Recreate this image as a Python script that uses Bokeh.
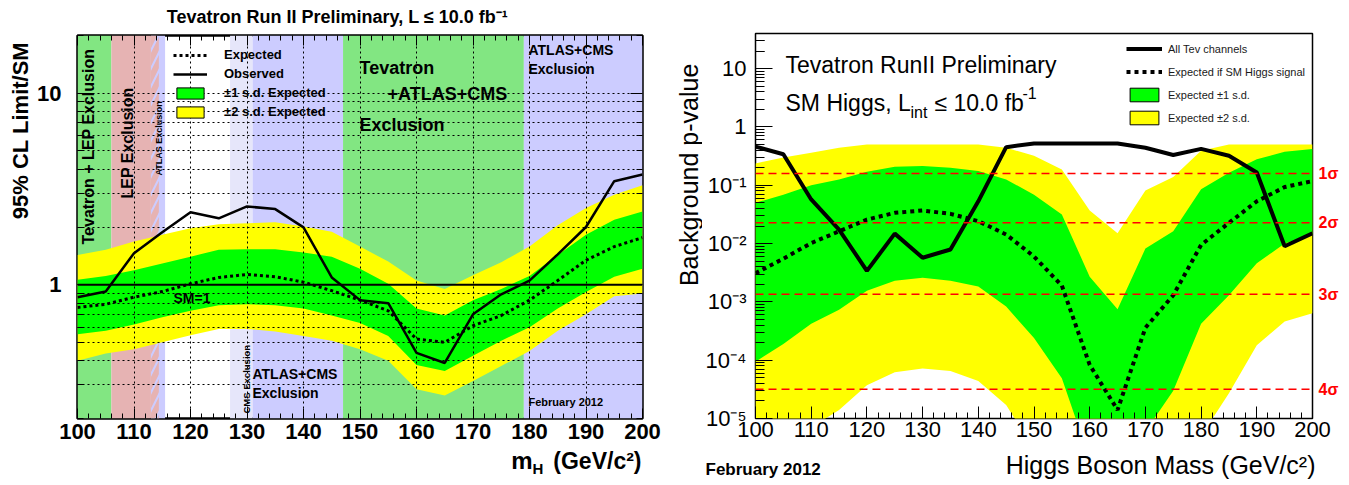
import math
from bokeh.plotting import figure
from bokeh.models import (Range1d, FixedTicker, Label, Span, Legend, LegendItem,
                          LinearAxis, LogAxis, CustomJSTickFormatter)
from bokeh.layouts import row, column
from bokeh.embed import file_html
from bokeh.resources import INLINE

FONT = "Liberation Sans"

# ---------------- data: left panel (95% CL limit / SM) ----------------
mass = [100, 105, 110, 115, 120, 125, 130, 135, 140, 145, 150,
        155, 160, 165, 170, 175, 180, 185, 190, 195, 200]
obs_limit = [0.86, 0.92, 1.46, 1.88, 2.39, 2.22, 2.56, 2.48, 1.99, 1.09, 0.83,
             0.80, 0.44, 0.39, 0.70, 0.89, 1.05, 1.44, 2.00, 3.47, 3.76]
exp_limit = [0.76, 0.79, 0.86, 0.92, 1.01, 1.09, 1.13, 1.10, 1.03, 0.93, 0.83,
             0.73, 0.52, 0.50, 0.61, 0.69, 0.83, 1.05, 1.34, 1.58, 1.76]
limit_p1 = [1.06, 1.11, 1.19, 1.29, 1.40, 1.52, 1.53, 1.53, 1.47, 1.40, 1.21,
            1.01, 0.75, 0.69, 0.83, 0.95, 1.11, 1.43, 1.82, 2.18, 2.41]
limit_m1 = [0.55, 0.575, 0.62, 0.676, 0.73, 0.78, 0.79, 0.78, 0.75, 0.69, 0.63,
            0.54, 0.38, 0.354, 0.425, 0.51, 0.60, 0.75, 0.915, 1.10, 1.21]
limit_p2 = [1.43, 1.52, 1.68, 1.82, 1.97, 2.07, 2.09, 2.12, 2.01, 1.89, 1.58,
            1.32, 1.05, 0.95, 1.12, 1.31, 1.58, 2.04, 2.51, 2.95, 3.30]
limit_m2 = [0.40, 0.437, 0.46, 0.50, 0.545, 0.587, 0.587, 0.57, 0.54, 0.51, 0.46,
            0.40, 0.284, 0.264, 0.314, 0.376, 0.45, 0.575, 0.70, 0.87, 0.90]
sm_value = [1.0]

# excluded mass regions (GeV)
excl_lo = [100, 106, 113, 127, 131, 147, 179]
excl_hi = [106, 113, 115.5, 131, 147, 179, 200]
lep_hatch_lo = [113]
lep_hatch_hi = [114.4]

# ---------------- data: right panel (background p-value) ----------------
pval_obs = [0.46, 0.34, 0.057, 0.0174, 0.0034, 0.0148, 0.0057, 0.0079, 0.053, 0.45, 0.52,
            0.52, 0.52, 0.52, 0.44, 0.33, 0.42, 0.32, 0.165, 0.009, 0.015]
pval_exp = [0.0031, 0.0055, 0.0102, 0.0162, 0.0258, 0.0336, 0.0369, 0.0323, 0.0242, 0.0143, 0.006,
            0.0019, 8.3e-5, 1.4e-5, 3.6e-4, 1.3e-3, 0.0095, 0.0226, 0.053, 0.093, 0.118]
pval_p2 = [0.237, 0.30, 0.36, 0.44, 0.50, 0.50, 0.50, 0.50, 0.50, 0.44, 0.32,
           0.187, 0.037, 0.0150, 0.081, 0.138, 0.39, 0.50, 0.50, 0.50, 0.50]
pval_p1 = [0.050, 0.069, 0.100, 0.126, 0.170, 0.207, 0.213, 0.200, 0.175, 0.126, 0.069,
           0.0315, 0.0027, 7.5e-4, 0.0082, 0.0162, 0.085, 0.164, 0.278, 0.377, 0.42]
pval_m1 = [9.4e-5, 1.9e-4, 4.2e-4, 7.3e-4, 1.55e-3, 2.3e-3, 2.6e-3, 2.3e-3, 1.84e-3, 8.3e-4, 2.4e-4,
           4.9e-5, 2e-6, 1e-7, 6e-6, 3e-5, 4.2e-4, 1.3e-3, 4.6e-3, 0.010, 0.0143]
pval_m2 = [1e-6, 3e-6, 7e-6, 1.4e-5, 3.7e-5, 6.2e-5, 7.2e-5, 6.5e-5, 4.4e-5, 1.7e-5, 3e-6,
           1e-7, 1e-8, 1e-8, 1e-8, 1e-8, 5e-6, 2.7e-5, 1.8e-4, 4.6e-4, 6.4e-4]
sigma_p = [0.1587, 0.02275, 0.00135, 3.17e-5]
sigma_labels = ["1σ", "2σ", "3σ", "4σ"]

# ticks
x_major = list(range(100, 201, 10))
x_minor = list(range(100, 201, 2))
y1_major = [1, 10]
y1_minor = [k / 10 for k in range(2, 10)] + list(range(2, 10)) + [20]
y2_major = [10.0 ** e for e in range(-5, 2)]
y2_minor = [k * 10.0 ** e for e in range(-5, 2) for k in range(2, 10)] + [20, 30, 40]

# ---------------- styles ----------------
EXCL_COLORS = ["#82e682", "#e6b3b3", "#ccccff", "#e6e6fa", "#ccccff", "#82e682", "#ccccff"]
GREEN = "#00ff00"
YELLOW = "#ffff00"
Y1_LO, Y1_HI = 0.2, 20
Y2_LO, Y2_HI = 1e-5, 40
NAN = [math.nan]
VERT = math.pi / 2
TOTAL_H = 481


def empty_fmt():
    return CustomJSTickFormatter(code="return '';")


def style_axis(ax, size, bold, t_in, m_in, standoff):
    ax.axis_line_color = None
    ax.major_tick_in = t_in
    ax.major_tick_out = 0
    ax.minor_tick_in = m_in
    ax.minor_tick_out = 0
    ax.major_tick_line_color = "black"
    ax.minor_tick_line_color = "black"
    ax.major_tick_line_width = 1
    ax.minor_tick_line_width = 1
    ax.major_label_text_font = FONT
    ax.major_label_text_font_size = size
    ax.major_label_text_font_style = "bold" if bold else "normal"
    ax.major_label_text_color = "black"
    ax.major_label_standoff = standoff


def add_label(p, x, y, text, dx, dy, size, bold=False, align="left",
              baseline="middle", angle=0.0, color="black"):
    p.add_layout(Label(x=x, y=y, x_offset=dx, y_offset=dy, text=text,
                       text_font=FONT, text_font_size=size,
                       text_font_style="bold" if bold else "normal",
                       text_align=align, text_baseline=baseline,
                       angle=angle, text_color=color))


def text_fig(left, top, w, h):
    """A bare figure used only to hold texts; data units = pixels."""
    f = figure(width=w, height=h, x_range=Range1d(0, w), y_range=Range1d(0, h),
               x_axis_location=None, y_axis_location=None, toolbar_location=None,
               title=None, output_backend="svg", min_border=0, outline_line_color=None,
               background_fill_color="white", border_fill_color="white")
    f.grid.visible = False

    def put(text, px, py, size, **kw):
        add_label(f, px - left, (top + h) - py, text, 0, 0, size, **kw)
    return f, put


# =================== LEFT PANEL ===================
p1 = figure(width=640, height=418, x_range=Range1d(100, 200), y_range=Range1d(Y1_LO, Y1_HI),
            y_axis_type="log", output_backend="svg", toolbar_location=None, title=None,
            min_border_left=43, min_border_right=32, min_border_top=5, min_border_bottom=30,
            background_fill_color="white", border_fill_color="white")
p1.outline_line_color = "black"
p1.outline_line_width = 2.5

n_ex = len(excl_lo)
p1.quad(left=excl_lo, right=excl_hi, bottom=[Y1_LO] * n_ex, top=[Y1_HI] * n_ex,
        fill_color=EXCL_COLORS, line_color=None)
p1.quad(left=lep_hatch_lo, right=lep_hatch_hi, bottom=[Y1_LO], top=[Y1_HI],
        fill_color=None, line_color=None, hatch_pattern="/", hatch_color="#e6b3b3",
        hatch_weight=6, hatch_scale=18)
p1.varea(x=mass, y1=limit_m2, y2=limit_p2, fill_color=YELLOW)
p1.varea(x=mass, y1=limit_m1, y2=limit_p1, fill_color=GREEN)

p1.xaxis.ticker = FixedTicker(ticks=x_major, minor_ticks=x_minor)
p1.yaxis.ticker = FixedTicker(ticks=y1_major, minor_ticks=y1_minor)
p1.yaxis.formatter = CustomJSTickFormatter(code="return String(Math.round(tick));")
style_axis(p1.xaxis[0], "22px", True, 10, 5, 5)
style_axis(p1.yaxis[0], "22px", True, 12, 6, 16)
ax_top = LinearAxis(ticker=FixedTicker(ticks=x_major, minor_ticks=x_minor), formatter=empty_fmt())
style_axis(ax_top, "1px", True, 10, 5, 0)
p1.add_layout(ax_top, "above")
ax_right = LogAxis(ticker=FixedTicker(ticks=y1_major, minor_ticks=y1_minor), formatter=empty_fmt())
style_axis(ax_right, "1px", True, 12, 6, 0)
p1.add_layout(ax_right, "right")

for g in (p1.xgrid[0], p1.ygrid[0]):
    g.grid_line_color = "black"
    g.grid_line_dash = "2 3"
    g.grid_line_width = 1
    g.level = "annotation"
p1.ygrid[0].minor_grid_line_color = "black"
p1.ygrid[0].minor_grid_line_dash = "2 3"

p1.add_layout(Span(location=sm_value[0], dimension="width", line_color="black", line_width=2))
r_exp1 = p1.line(mass, exp_limit, line_color="black", line_width=3, line_dash="3 3")
r_obs1 = p1.line(mass, obs_limit, line_color="black", line_width=2.5)
r_g1 = p1.quad(left=NAN, right=NAN, top=NAN, bottom=NAN, fill_color=GREEN, line_color="black", line_width=1)
r_y1 = p1.quad(left=NAN, right=NAN, top=NAN, bottom=NAN, fill_color=YELLOW, line_color="black", line_width=1)

leg1 = Legend(items=[LegendItem(label="Expected", renderers=[r_exp1]),
                     LegendItem(label="Observed", renderers=[r_obs1]),
                     LegendItem(label="±1 s.d. Expected", renderers=[r_g1]),
                     LegendItem(label="±2 s.d. Expected", renderers=[r_y1])],
              location=(96, 297), glyph_width=34, glyph_height=14, label_height=19,
              spacing=0, padding=0, margin=0, label_standoff=17,
              label_text_font=FONT, label_text_font_style="bold", label_text_font_size="13px",
              label_text_color="black", background_fill_alpha=0, border_line_color=None)
p1.add_layout(leg1)


def lab1(text, px, py, size, **kw):
    add_label(p1, 100, Y1_LO, text, px - 77, 418 - py, size, **kw)


lab1("Tevatron + LEP Exclusion", 88, 244, "16px", bold=True, angle=VERT)
lab1("LEP Exclusion", 127, 198, "16px", bold=True, angle=VERT)
lab1("ATLAS Exclusion", 158, 175, "9px", bold=True, angle=VERT)
lab1("CMS Exclusion", 246, 413, "9.5px", bold=True, angle=VERT)
lab1("ATLAS+CMS", 252, 373, "14px", bold=True)
lab1("Exclusion", 252, 392, "14px", bold=True)
lab1("Tevatron", 359, 67, "18px", bold=True)
lab1("+ATLAS+CMS", 387, 93, "18px", bold=True)
lab1("Exclusion", 359, 124, "18px", bold=True)
lab1("ATLAS+CMS", 528, 49, "14px", bold=True)
lab1("Exclusion", 528, 68, "14px", bold=True)
lab1("February 2012", 528, 401, "11px", bold=True)
lab1("SM=1", 173, 297, "14px", bold=True)

# texts around the left panel
t1, put_t1 = text_fig(0, 0, 674, 30)
put_t1("Tevatron Run II Preliminary, L ≤ 10.0 fb⁻¹", 337, 16, "18px", bold=True, align="center")
yl1, put_yl1 = text_fig(0, 30, 34, 418)
put_yl1("95% CL Limit/SM", 20, 37, "22px", bold=True, align="right", angle=VERT)
xl1, put_xl1 = text_fig(0, 448, 674, TOTAL_H - 448)
put_xl1("m", 532, 460, "24px", bold=True, align="right")
put_xl1("H", 532, 468, "15px", bold=True)
put_xl1("(GeV/c²)", 641, 460, "23px", bold=True, align="right")

# =================== RIGHT PANEL ===================
p2 = figure(width=639, height=446, x_range=Range1d(100, 200), y_range=Range1d(Y2_LO, Y2_HI),
            y_axis_type="log", output_backend="svg", toolbar_location=None, title=None,
            min_border_left=51, min_border_right=25, min_border_top=33, min_border_bottom=28,
            background_fill_color="white", border_fill_color="white")
p2.outline_line_color = "black"
p2.outline_line_width = 1.5
p2.grid.grid_line_color = None

p2.varea(x=mass, y1=pval_m2, y2=pval_p2, fill_color=YELLOW)
p2.varea(x=mass, y1=pval_m1, y2=pval_p1, fill_color=GREEN)
for s in sigma_p:
    p2.add_layout(Span(location=s, dimension="width", line_color="red",
                       line_width=1.5, line_dash="8 5"))
r_obs2 = p2.line(mass, pval_obs, line_color="black", line_width=4)
r_exp2 = p2.line(mass, pval_exp, line_color="black", line_width=4, line_dash="4 4")
r_g2 = p2.quad(left=NAN, right=NAN, top=NAN, bottom=NAN, fill_color=GREEN, line_color="black", line_width=1)
r_y2 = p2.quad(left=NAN, right=NAN, top=NAN, bottom=NAN, fill_color=YELLOW, line_color="black", line_width=1)

p2.xaxis.ticker = FixedTicker(ticks=x_major, minor_ticks=x_minor)
p2.yaxis.ticker = FixedTicker(ticks=y2_major, minor_ticks=y2_minor)
p2.yaxis.formatter = CustomJSTickFormatter(code="""
const e = Math.round(Math.log10(tick));
if (e == 0) return "1";
if (e == 1) return "10";
const sup = {"-": "\u207b", "0": "\u2070", "1": "\u00b9", "2": "\u00b2", "3": "\u00b3",
             "4": "\u2074", "5": "\u2075", "6": "\u2076", "7": "\u2077", "8": "\u2078", "9": "\u2079"};
return "10" + String(e).split("").map(c => sup[c]).join("");
""")
style_axis(p2.xaxis[0], "22px", False, 12, 6, 3)
style_axis(p2.yaxis[0], "22px", False, 17, 9, 9)

# sigma labels as a right-hand axis at the sigma p-values
sig_axis = LogAxis(ticker=FixedTicker(ticks=sigma_p, minor_ticks=[]),
                   formatter=CustomJSTickFormatter(args=dict(vals=sigma_p, labs=sigma_labels), code="""
let best = 0;
for (let i = 0; i < vals.length; i++) {
  if (Math.abs(Math.log10(vals[i] / tick)) < Math.abs(Math.log10(vals[best] / tick))) best = i;
}
return labs[best];
"""))
style_axis(sig_axis, "16px", True, 0, 0, 6)
sig_axis.major_tick_line_color = None
sig_axis.minor_tick_line_color = None
sig_axis.major_label_text_color = "red"
p2.add_layout(sig_axis, "right")

leg2 = Legend(items=[LegendItem(label="All Tev channels", renderers=[r_obs2]),
                     LegendItem(label="Expected if SM Higgs signal", renderers=[r_exp2]),
                     LegendItem(label="Expected ±1 s.d.", renderers=[r_g2]),
                     LegendItem(label="Expected ±2 s.d.", renderers=[r_y2])],
              location=(371, 289), glyph_width=36, glyph_height=17, label_height=23,
              spacing=0, padding=0, margin=0, label_standoff=6,
              label_text_font=FONT, label_text_font_size="11px", label_text_color="#1a1a1a",
              background_fill_alpha=0, border_line_color=None)
p2.add_layout(leg2)


def lab2(text, px, py, size, **kw):
    add_label(p2, 100, Y2_LO, text, px - 753, 418 - py, size, **kw)


lab2("Tevatron RunII Preliminary", 783, 64, "23px", baseline="alphabetic")
lab2("SM Higgs, L", 783, 102, "23px", baseline="alphabetic")
lab2("int", 908, 112, "16px", baseline="alphabetic")
lab2("≤ 10.0 fb", 932, 102, "23px", baseline="alphabetic")
lab2("-1", 1020, 92, "16px", baseline="alphabetic")

yl2, put_yl2 = text_fig(674, 0, 28, 446)
put_yl2("Background p-value", 688, 35, "25px", align="right", angle=VERT)
xl2, put_xl2 = text_fig(674, 446, 667, TOTAL_H - 446)
put_xl2("February 2012", 705, 469, "17px", bold=True)
put_xl2("Higgs Boson Mass (GeV/c²)", 1315, 464, "25px", align="right")

left_panel = column(t1, row(yl1, p1, spacing=0), xl1, spacing=0)
right_panel = column(row(yl2, p2, spacing=0), xl2, spacing=0)
layout = row(left_panel, right_panel, spacing=0)
open("out.html", "w").write(file_html(layout, INLINE))
